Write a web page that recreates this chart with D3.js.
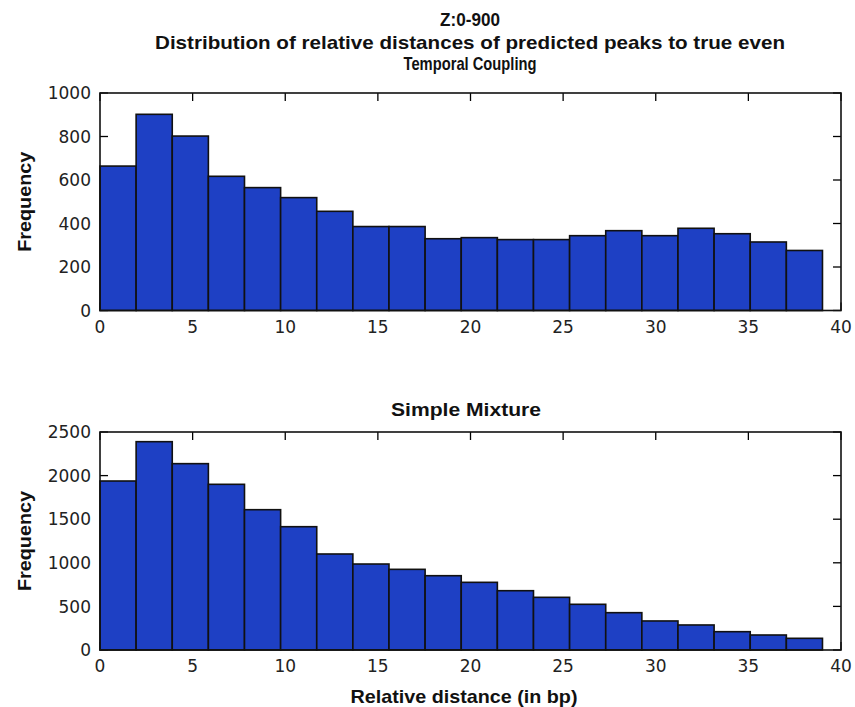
<!DOCTYPE html>
<html>
<head>
<meta charset="utf-8">
<script src="https://cdn.jsdelivr.net/npm/d3@7"></script>
<style>
  html, body { margin: 0; padding: 0; background: #fff; }
  svg { display: block; }
</style>
</head>
<body>
<svg id="chart" width="855" height="707"></svg>
<script>
// ---- Data ----
const binLeft = [0, 1.95, 3.9, 5.85, 7.8, 9.75, 11.7, 13.65, 15.6, 17.55,
                 19.5, 21.45, 23.4, 25.35, 27.3, 29.25, 31.2, 33.15, 35.1, 37.05];
const binWidth = 1.95;
const temporalCoupling = [664, 902, 802, 617, 565, 519, 456, 386, 386, 330,
                          335, 326, 326, 344, 367, 344, 378, 353, 315, 276];
const simpleMixture = [1938, 2389, 2137, 1900, 1609, 1414, 1101, 986, 925, 852,
                       776, 680, 604, 524, 428, 333, 287, 210, 172, 134];
const xTicks = [0, 5, 10, 15, 20, 25, 30, 35, 40];
const yTicksTop = [0, 200, 400, 600, 800, 1000];
const yTicksBottom = [0, 500, 1000, 1500, 2000, 2500];
const titleLines = ["Z:0-900", "Distribution of relative distances of predicted peaks to true even", "Temporal Coupling"];
const subTitle2 = "Simple Mixture";
const xLabel = "Relative distance (in bp)";
const yLabel = "Frequency";

// ---- Drawing ----
const svg = d3.select("#chart");
const barColor = "#1e40c4";
const titleFont = "'Liberation Sans', Arial, sans-serif";
const tickFont = "'DejaVu Sans', sans-serif";

const x = d3.scaleLinear().domain([0, 40]).range([100, 841]);

function fitText(sel, w) {
  sel.attr("textLength", w).attr("lengthAdjust", "spacingAndGlyphs");
}

function panel(values, yMax, yTicks, top, bottom) {
  const y = d3.scaleLinear().domain([0, yMax]).range([bottom, top]);
  const g = svg.append("g");
  const tl = 8;

  // ticks (inside), drawn under bars
  const tk = g.append("g").attr("stroke", "#000").attr("stroke-width", 1.3);
  xTicks.forEach(t => {
    tk.append("line").attr("x1", x(t)).attr("x2", x(t)).attr("y1", top).attr("y2", top + tl);
    tk.append("line").attr("x1", x(t)).attr("x2", x(t)).attr("y1", bottom).attr("y2", bottom - tl);
  });
  yTicks.forEach(t => {
    tk.append("line").attr("x1", x(0)).attr("x2", x(0) + tl).attr("y1", y(t)).attr("y2", y(t));
    tk.append("line").attr("x1", x(40)).attr("x2", x(40) - tl).attr("y1", y(t)).attr("y2", y(t));
  });

  // bars
  g.append("g").selectAll("rect").data(values).join("rect")
    .attr("x", (d, i) => x(binLeft[i]))
    .attr("width", (d, i) => x(binLeft[i] + binWidth) - x(binLeft[i]))
    .attr("y", d => y(d))
    .attr("height", d => y(0) - y(d))
    .attr("fill", barColor)
    .attr("stroke", "#111")
    .attr("stroke-width", 1.6);

  // frame
  g.append("rect")
    .attr("x", x(0)).attr("y", top)
    .attr("width", x(40) - x(0)).attr("height", bottom - top)
    .attr("fill", "none").attr("stroke", "#111").attr("stroke-width", 1.6);

  // tick labels
  const xa = g.append("g").attr("font-family", tickFont).attr("font-size", 17).attr("fill", "#222");
  xTicks.forEach(t => {
    xa.append("text").attr("x", x(t)).attr("y", bottom + 22).attr("text-anchor", "middle").text(t);
  });
  yTicks.forEach(t => {
    xa.append("text").attr("x", 91).attr("y", y(t)).attr("dy", "0.36em").attr("text-anchor", "end").text(t);
  });

  // y label
  g.append("text")
    .attr("transform", `translate(31,${(top + bottom) / 2}) rotate(-90)`)
    .attr("text-anchor", "middle")
    .attr("font-family", titleFont).attr("font-weight", "bold").attr("font-size", 19)
    .attr("fill", "#111")
    .text(yLabel)
    .call(fitText, 100);
  return y;
}

panel(temporalCoupling, 1000, yTicksTop, 93, 310.5);
panel(simpleMixture, 2500, yTicksBottom, 432, 650);

// titles
const tg = svg.append("g").attr("font-family", titleFont).attr("font-weight", "bold")
  .attr("font-size", 19).attr("fill", "#111").attr("text-anchor", "middle");
const titleY = [26, 49, 70];
const titleW = [60, 630, 133];
titleLines.forEach((s, i) => {
  tg.append("text").attr("x", 470).attr("y", titleY[i]).text(s).call(fitText, titleW[i]);
});
tg.append("text").attr("x", 466).attr("y", 416).text(subTitle2).call(fitText, 150);
tg.append("text").attr("x", 464).attr("y", 703).text(xLabel).call(fitText, 227);
</script>
</body>
</html>
